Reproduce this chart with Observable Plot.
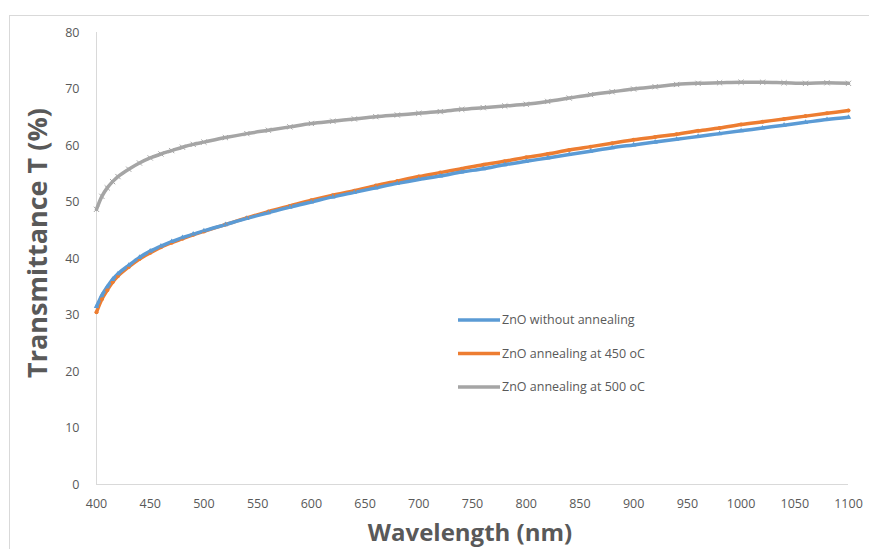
<!DOCTYPE html>
<html>
<head>
<meta charset="utf-8">
<script src="https://cdn.jsdelivr.net/npm/d3@7"></script>
<script src="https://cdn.jsdelivr.net/npm/@observablehq/plot@0.6"></script>
<style>
  html, body { margin: 0; padding: 0; background: #fff; }
  #chart { position: relative; width: 869px; height: 549px; overflow: hidden; }
</style>
</head>
<body>
<div id="chart"></div>
<script>
const wavelengths = [400,405,410,415,420,430,440,450,460,470,480,490,500,520,540,560,580,600,620,640,660,680,700,720,740,760,780,800,820,840,860,880,900,920,940,960,980,1000,1020,1040,1060,1080,1100];
const noAnneal = [31.5,33.5,35,36.3,37.3,38.8,40.2,41.3,42.2,43,43.7,44.3,44.9,46,47.1,48.1,49.1,50,50.9,51.7,52.5,53.3,54,54.6,55.3,55.9,56.6,57.2,57.8,58.4,59,59.6,60.1,60.6,61.1,61.6,62.1,62.6,63.1,63.6,64.1,64.6,65];
const anneal450 = [30.5,32.8,34.4,35.8,36.9,38.5,39.9,41,42,42.8,43.5,44.2,44.8,46,47.2,48.3,49.3,50.3,51.2,52,52.9,53.7,54.5,55.2,55.9,56.6,57.2,57.9,58.5,59.2,59.8,60.4,61,61.5,62,62.6,63.1,63.7,64.2,64.7,65.2,65.7,66.2];
const anneal500 = [48.7,51,52.5,53.6,54.5,55.8,56.9,57.8,58.5,59.1,59.7,60.2,60.6,61.4,62.1,62.7,63.3,63.9,64.3,64.7,65.1,65.4,65.7,66,66.4,66.7,67,67.3,67.8,68.4,69,69.5,70,70.4,70.8,71,71.1,71.2,71.2,71.1,71,71.1,71];
const seriesNames = ["ZnO without annealing", "ZnO annealing at 450 oC", "ZnO annealing at 500 oC"];
const seriesColors = ["#5b9bd5", "#ed7d31", "#a5a5a5"];
const xTicks = [400,450,500,550,600,650,700,750,800,850,900,950,1000,1050,1100];
const yTicks = [0,10,20,30,40,50,60,70,80];

const allSeries = [noAnneal, anneal450, anneal500];
const rows = [];
allSeries.forEach((vals, si) => vals.forEach((v, i) => rows.push({series: seriesNames[si], x: wavelengths[i], y: v})));
const drawOrder = [seriesNames[2], seriesNames[1], seriesNames[0]];

const plot = Plot.plot({
  width: 869,
  height: 549,
  marginLeft: 96,
  marginRight: 21,
  marginTop: 32,
  marginBottom: 65,
  style: {fontFamily: "'Open Sans', sans-serif", color: "#595959", background: "#fff"},
  x: {domain: [400, 1100]},
  y: {domain: [0, 80]},
  marks: [
    Plot.ruleX([400], {stroke: "#d9d9d9", strokeWidth: 1}),
    Plot.ruleY([0], {stroke: "#d9d9d9", strokeWidth: 1}),
    Plot.axisX({ticks: xTicks, tickFormat: d => String(d), tickSize: 0, tickPadding: 15, fontSize: 12.5, fill: "#595959", label: null}),
    Plot.axisY({ticks: yTicks, tickFormat: d => String(d), tickSize: 0, tickPadding: 17, fontSize: 12.5, fill: "#595959", label: null}),
    ...drawOrder.map(name => Plot.line(rows.filter(d => d.series === name), {x: "x", y: "y", stroke: seriesColors[seriesNames.indexOf(name)], strokeWidth: 3.5, curve: "catmull-rom"})),
    Plot.dot(rows.filter(d => d.series === seriesNames[2]), {x: "x", y: "y", symbol: "times", r: 2.5, stroke: "#a5a5a5", strokeWidth: 1}),
    Plot.dot(rows.filter(d => d.series === seriesNames[1]), {x: "x", y: "y", symbol: "circle", r: 2, fill: "#ed7d31", stroke: "none"}),
    Plot.dot(rows.filter(d => d.series === seriesNames[0]), {x: "x", y: "y", symbol: "triangle", r: 2, fill: "#5b9bd5", stroke: "none"})
  ]
});
document.getElementById("chart").appendChild(plot);

const svg = d3.select(plot);
// outer chart frame
svg.insert("rect", ":first-child").attr("x", 9.5).attr("y", 15.5).attr("width", 900).attr("height", 600)
  .attr("fill", "none").attr("stroke", "#d9d9d9");
// axis titles
svg.append("text").attr("transform", "translate(47,243) rotate(-90)").attr("text-anchor", "middle")
  .attr("font-family", "'Open Sans', sans-serif").attr("font-weight", "bold").attr("font-size", 27).attr("fill", "#595959")
  .text("Transmittance T (%)");
svg.append("text").attr("x", 470).attr("y", 541).attr("text-anchor", "middle")
  .attr("font-family", "'Open Sans', sans-serif").attr("font-weight", "bold").attr("font-size", 24).attr("fill", "#595959")
  .text("Wavelength (nm)");
// legend
const lg = svg.append("g").attr("text-anchor", "start");
seriesNames.forEach((name, i) => {
  const y = 320 + i * 33.5;
  lg.append("line").attr("x1", 458).attr("x2", 500).attr("y1", y).attr("y2", y).attr("stroke", seriesColors[i]).attr("stroke-width", 3.5);
  lg.append("text").attr("x", 502).attr("y", y).attr("dy", "0.35em").attr("text-anchor", "start").attr("font-family", "'Open Sans', sans-serif")
    .attr("font-size", 12.5).attr("fill", "#595959").text(name);
});
</script>
</body>
</html>
